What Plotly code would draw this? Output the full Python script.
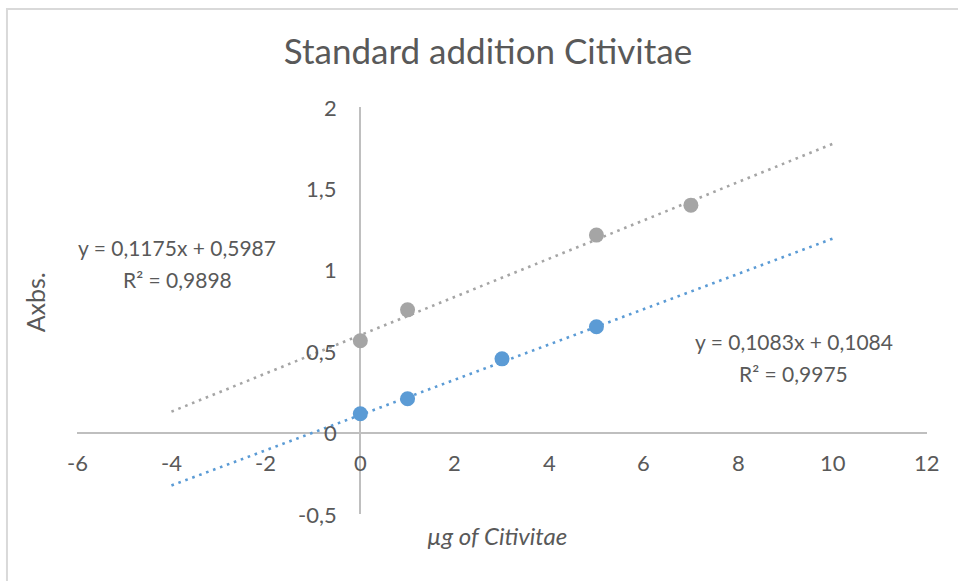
import plotly.graph_objects as go

# Measured absorbance for the two standard-addition series
x_grey = [0, 1, 5, 7]
y_grey = [0.564, 0.754, 1.213, 1.397]
x_blue = [0, 1, 3, 5]
y_blue = [0.116, 0.208, 0.453, 0.65]

# Linear trendlines (slope, intercept) and their fit quality
fit_grey = (0.1175, 0.5987, 0.9898)
fit_blue = (0.1083, 0.1084, 0.9975)
trend_x = [-4, 10]

x_ticks = [-6, -4, -2, 0, 2, 4, 6, 8, 10, 12]
y_ticks = [-0.5, 0, 0.5, 1, 1.5, 2]

GREY = "#A5A5A5"
BLUE = "#5B9BD5"
TEXT = "#595959"
AXIS = "#BFBFBF"
FONT = "Lato, 'Open Sans', sans-serif"


def fmt(v):
    return f"{v:g}".replace(".", ",")


def line_y(fit, xs):
    m, b, _ = fit
    return [m * x + b for x in xs]


fig = go.Figure()

for fit, col in ((fit_grey, GREY), (fit_blue, BLUE)):
    fig.add_trace(go.Scatter(
        x=trend_x, y=line_y(fit, trend_x), mode="lines",
        line=dict(color=col, width=2.6, dash="2.6px,4.8px"),
        hoverinfo="skip", showlegend=False,
    ))

fig.add_trace(go.Scatter(x=x_grey, y=y_grey, mode="markers",
                         marker=dict(color=GREY, size=15), showlegend=False))
fig.add_trace(go.Scatter(x=x_blue, y=y_blue, mode="markers",
                         marker=dict(color=BLUE, size=15), showlegend=False))

annotations = []
# tick labels placed beside the axes that cross at the origin
for t in x_ticks:
    annotations.append(dict(x=t, y=0, xref="x", yref="y", text=fmt(t),
                            showarrow=False, yanchor="middle", yshift=-30,
                            font=dict(size=22, color=TEXT, family=FONT)))
for t in y_ticks:
    annotations.append(dict(x=0, y=t, xref="x", yref="y", text=fmt(t),
                            showarrow=False, xanchor="right", xshift=-21,
                            font=dict(size=22, color=TEXT, family=FONT)))

# trendline equations, one annotation per line
for fit, xp, yp in ((fit_grey, -3.88, 1.037), (fit_blue, 9.18, 0.46)):
    m, b, r2 = fit
    for txt, dy in ((f"y = {fmt(m)}x + {fmt(b)}", 16), (f"R² = {fmt(r2)}", -16)):
        annotations.append(dict(
            x=xp, y=yp, xref="x", yref="y", showarrow=False, yshift=dy,
            text=txt, font=dict(size=21, color=TEXT, family=FONT)))

# axis titles
annotations.append(dict(x=2.9, y=-0.5, xref="x", yref="y", yanchor="middle",
                        yshift=-21, showarrow=False, text="<i>µg of Citivitae</i>",
                        font=dict(size=24, color=TEXT, family=FONT)))
annotations.append(dict(x=-42 / 850, y=0.80 / 2.5 + 0.2, xref="paper", yref="paper",
                        textangle=-90, xanchor="center", yanchor="middle",
                        showarrow=False, text="Axbs.",
                        font=dict(size=25, color=TEXT, family=FONT)))

fig.update_layout(
    width=958, height=581,
    margin=dict(l=77, r=31, t=107, b=66.5),
    paper_bgcolor="white", plot_bgcolor="white",
    title=dict(text="Standard addition Citivitae", x=488 / 958, xanchor="center",
               y=1 - 52 / 581, yanchor="middle",
               font=dict(size=35, color=TEXT, family=FONT)),
    xaxis=dict(range=[-6, 12], showgrid=False, showticklabels=False,
               zeroline=True, zerolinecolor=AXIS, zerolinewidth=1.5,
               showline=False, ticks=""),
    yaxis=dict(range=[-0.5, 2], showgrid=False, showticklabels=False,
               zeroline=True, zerolinecolor=AXIS, zerolinewidth=1.5,
               showline=False, ticks=""),
    annotations=annotations,
    shapes=[dict(type="rect", xref="paper", yref="paper",
                 x0=-0.0824, x1=1.2, y0=-0.4, y1=1.2405,
                 line=dict(color="#D9D9D9", width=2), layer="below")],
)

fig.write_html("out.html")
